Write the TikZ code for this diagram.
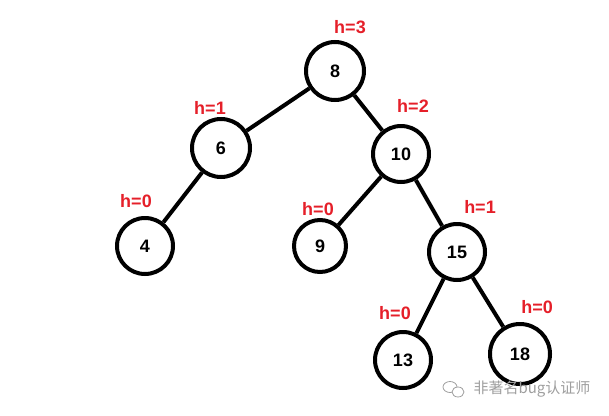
\documentclass[tikz,border=0pt]{standalone}
\usepackage{fontspec}
\setmainfont{Liberation Sans}
\newfontfamily\cjkfont{Noto Sans CJK SC}
\usetikzlibrary{positioning}
\tikzset{key/.style = {draw, circle, line width = 4pt, minimum size = 56pt, inner sep = 0, font = \fontsize{18}{18}\selectfont\bfseries}}
\tikzset{hlabel/.style = {text = hred, font = \fontsize{18}{18}\selectfont\bfseries}}
\definecolor{hred}{rgb}{0.9, 0.12, 0.16}
\definecolor{wmgray}{rgb}{0.62, 0.62, 0.62}

\begin{document}
\begin{tikzpicture}[x = 1pt, y = -1pt]
      \useasboundingbox (0, 0) rectangle (609, 415);
      \node [key, minimum size = 58pt] (n8) at (335, 71) {8};
      \node [key, minimum size = 58pt] (n6) at (221, 148) {6};
      \node [key] (n10) at (401, 154) {10};
      \node [key] (n4) at (145, 246) {4};
      \node [key, minimum size = 52pt] (n9) at (320, 246) {9};
      \node [key] (n15) at (457, 252) {15};
      \node [key] (n13) at (403, 360) {13};
      \node [key, minimum size = 60pt] (n18) at (520, 354) {18};
      \foreach \a/\b in {n8/n6, n8/n10, n6/n4, n10/n9, n10/n15, n15/n13, n15/n18} {
        \draw [line width = 4pt] (\a) -- (\b);
      }
      \node [hlabel] (h8) at (350, 27) {h=3};
      \node [hlabel] (h6) at (210, 108) {h=1};
      \node [hlabel] (h10) at (413, 106) {h=2};
      \node [hlabel] (h4) at (136, 201) {h=0};
      \node [hlabel] (h9) at (318, 209) {h=0};
      \node [hlabel] (h15) at (480, 207) {h=1};
      \node [hlabel] (h13) at (395, 313) {h=0};
      \node [hlabel] (h18) at (537, 307) {h=0};
      % watermark
      \draw [wmgray, line width = 0.8pt] (450, 387) ellipse (7 and 5.5);
      \draw [wmgray, line width = 0.8pt, fill = white] (458, 392) ellipse (6 and 5);
      \node [text = wmgray, font = \cjkfont\fontsize{15}{15}\selectfont, anchor = west] (wm) at (470, 389) {非著名bug认证师};
    \end{tikzpicture}
\end{document}
